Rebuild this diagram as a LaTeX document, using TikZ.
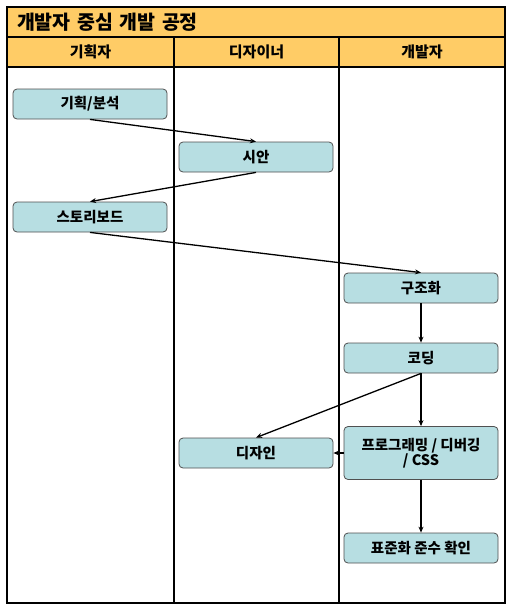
\documentclass[tikz,border=0pt]{standalone}
\usepackage{fontspec}
\setmainfont{Noto Sans CJK KR}
\usepackage{tikz}
\usetikzlibrary{positioning,arrows.meta}
\usepackage{xcolor}
\definecolor{hdrfill}{RGB}{255,204,102}
\definecolor{boxfill}{RGB}{183,222,226}
\definecolor{boxline}{RGB}{80,80,80}

\begin{document}
\begin{tikzpicture}[
    x=1pt, y=-1pt,
    band/.style={draw, line width=1.6pt, fill=hdrfill, inner sep=0pt,
                 minimum height=30pt, font=\fontsize{15}{17}\selectfont\bfseries},
    lane/.style={draw, line width=1.6pt, inner sep=0pt, minimum height=536pt},
    task/.style={draw=boxline, fill=boxfill, rounded corners=4pt, line width=0.8pt,
                 minimum width=154pt, minimum height=30pt, inner sep=2pt,
                 font=\fontsize{14.5}{17}\selectfont\bfseries, align=center},
    arr/.style={-{Stealth[length=6pt,width=5pt]}, line width=1.3pt}
  ]
  \useasboundingbox (0,0) rectangle (510,611);

  % Lanes
  \node[lane, minimum width=167pt] (lplan) at (90.5,335) {};
  \node[lane, minimum width=165pt] (ldes)  at (256.5,335) {};
  \node[lane, minimum width=166pt] (ldev)  at (422,335) {};

  % Title and headers
  \node[band, text width=478pt, inner xsep=10pt, align=left,
        font=\fontsize{19.5}{21}\selectfont\bfseries]
    (title) at (256,22) {개발자 중심 개발 공정};
  \node[band, minimum width=167pt] (hplan) at (90.5,52) {기획자};
  \node[band, minimum width=165pt] (hdes)  at (256.5,52) {디자이너};
  \node[band, minimum width=166pt] (hdev)  at (422,52) {개발자};

  % Tasks
  \node[task] (analysis) at (90,104)  {기획/분석};
  \node[task] (draft)    at (256,157) {시안};
  \node[task] (story)    at (90,217)  {스토리보드};
  \node[task] (struct)   at (421,288) {구조화};
  \node[task] (coding)   at (421,358) {코딩};
  \node[task, minimum height=53pt] (prog) at (421,453)
    {프로그래밍 / 디버깅\\[-2pt]/ CSS};
  \node[task] (design)   at (256,453) {디자인};
  \node[task] (check)    at (421,548) {표준화 준수 확인};

  % Flow
  \draw[arr] (analysis.south) -- (draft.north);
  \draw[arr] (draft.south) -- (story.north);
  \draw[arr] (story.south) -- (struct.north);
  \draw[arr] (struct.south) -- (coding.north);
  \draw[arr] (coding.south) -- (prog.north);
  \draw[arr] (coding.south) -- (design.north);
  \draw[arr] (prog.west) -- (design.east);
  \draw[arr] (prog.south) -- (check.north);
\end{tikzpicture}
\end{document}
